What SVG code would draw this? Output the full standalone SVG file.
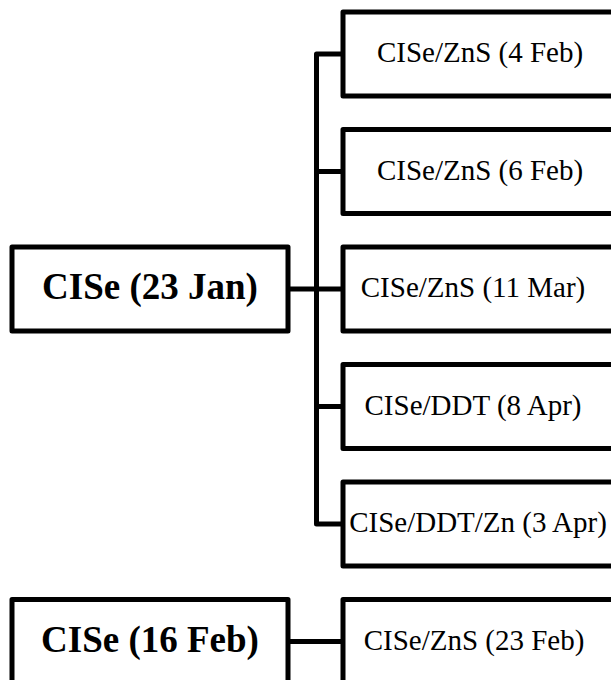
<svg xmlns="http://www.w3.org/2000/svg" width="611" height="680" viewBox="0 0 611 680">
<style>
.box{fill:#fff;stroke:#000;stroke-width:5;stroke-linejoin:round}
.con{fill:none;stroke:#000;stroke-width:5;stroke-linejoin:round}
.t{font-family:"Liberation Serif","Times New Roman",serif;font-size:29px;fill:#000;text-anchor:middle}
.b{font-family:"Liberation Serif","Times New Roman",serif;font-size:37px;font-weight:bold;fill:#000;text-anchor:middle}
</style>
<rect width="611" height="680" fill="#fff"/>
<g id="connectors">
<path class="con" d="M343,54 H316.5 V524 H343"/>
<path class="con" d="M316.5,171.5 H343 M316.5,406.5 H343"/>
<path class="con" d="M288,289 H343"/>
<path class="con" d="M288,641.5 H343"/>
</g>
<g id="n1"><rect class="box" x="343" y="12" width="280" height="84"/><text class="t" x="480" y="62">CISe/ZnS (4 Feb)</text></g>
<g id="n2"><rect class="box" x="343" y="129.5" width="280" height="84"/><text class="t" x="480" y="179.5">CISe/ZnS (6 Feb)</text></g>
<g id="n3"><rect class="box" x="343" y="247" width="280" height="84"/><text class="t" x="473" y="297">CISe/ZnS (11 Mar)</text></g>
<g id="n4"><rect class="box" x="343" y="364.5" width="280" height="84"/><text class="t" x="473" y="414.5">CISe/DDT (8 Apr)</text></g>
<g id="n5"><rect class="box" x="343" y="482" width="280" height="84"/><text class="t" x="478" y="532">CISe/DDT/Zn (3 Apr)</text></g>
<g id="n6"><rect class="box" x="343" y="599.5" width="280" height="120"/><text class="t" x="474" y="649.5">CISe/ZnS (23 Feb)</text></g>
<g id="root1"><rect class="box" x="12" y="247" width="276" height="84"/><text class="b" x="150" y="299">CISe (23 Jan)</text></g>
<g id="root2"><rect class="box" x="12" y="599.5" width="276" height="120"/><text class="b" x="150" y="652">CISe (16 Feb)</text></g>
</svg>
